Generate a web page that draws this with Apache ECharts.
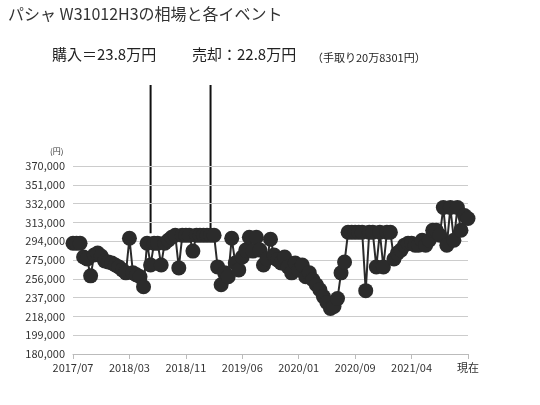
<!DOCTYPE html>
<html><head><meta charset="utf-8">
<script src="https://cdn.jsdelivr.net/npm/echarts@6/dist/echarts.min.js"></script>
<style>body{margin:0}#c{width:540px;height:405px}</style></head>
<body><div id="c"></div>
<script>
const tickLabels = ["2017/07", "2018/03", "2018/11", "2019/06", "2020/01", "2020/09", "2021/04", "現在"];
const prices = [
  292,292,292,278,276,259,280,282,279,274,
  273,272,270,268,265,262,297,262,260,258,
  248,292,270,292,292,270,292,295,298,300,
  267,300,300,300,284,300,300,300,300,300,
  300,268,250,262,258,297,272,265,278,285,
  298,284,298,285,270,276,296,280,275,272,
  278,268,262,272,265,270,258,262,255,250,
  245,238,232,226,228,236,262,273,303,303,
  303,303,303,244,303,303,268,303,268,303,
  303,276,282,285,290,292,292,290,290,295,
  290,295,305,305,300,328,290,328,295,328,
  305,320,317
].map(v => v * 1000);
const events = [22, 39];
const step = 16;

const categories = prices.map((_, i) => (i % step === 0 ? tickLabels[i / step] : ""));
const font = "'Noto Sans CJK JP', sans-serif";

const chart = echarts.init(document.getElementById("c"));
chart.setOption({
  backgroundColor: "#fff",
  animation: false,
  textStyle: { fontFamily: font },
  grid: { left: 73, right: 72, top: 166, bottom: 51 },
  xAxis: {
    type: "category",
    data: categories,
    boundaryGap: false,
    axisLine: { lineStyle: { color: "#bbb" } },
    axisTick: { interval: step - 1, lineStyle: { color: "#bbb" } },
    axisLabel: { interval: step - 1, color: "#333", fontSize: 11, margin: 8 },
  },
  yAxis: {
    type: "value",
    min: 180000,
    max: 370000,
    interval: 19000,
    axisLine: { show: false },
    axisTick: { show: false },
    splitLine: { lineStyle: { color: "#ccc" } },
    axisLabel: { color: "#333", fontSize: 11, formatter: v => v.toLocaleString("en-US") },
  },
  series: [{
    type: "line",
    data: prices,
    symbol: "circle",
    symbolSize: 15,
    showAllSymbol: true,
    itemStyle: { color: "#2b2b2b" },
    lineStyle: { color: "#2b2b2b", width: 2 },
  }],
  graphic: [
    { type: "text", left: 8, top: 6, style: { text: "パシャ W31012H3の相場と各イベント", fontSize: 16, fill: "#333", fontFamily: font } },
    { type: "text", left: 52, top: 47, style: { text: "購入＝23.8万円", fontSize: 15, fill: "#222", fontFamily: font } },
    { type: "text", left: 192, top: 47, style: { text: "売却：22.8万円", fontSize: 15, fill: "#222", fontFamily: font } },
    { type: "text", left: 312, top: 52, style: { text: "（手取り20万8301円）", fontSize: 11, fill: "#222", fontFamily: font } },
    { type: "text", left: 50, top: 147, style: { text: "(円)", fontSize: 8, fill: "#333", fontFamily: font } },
  ],
});

const lines = events.map((idx, k) => {
  const p = chart.convertToPixel({ seriesIndex: 0 }, [idx, 302000]);
  return {
    type: "line", id: "ev" + k,
    shape: { x1: p[0], y1: 85, x2: p[0], y2: p[1] },
    style: { stroke: "#111", lineWidth: 2 },
  };
});
chart.setOption({ graphic: lines });
</script></body></html>
